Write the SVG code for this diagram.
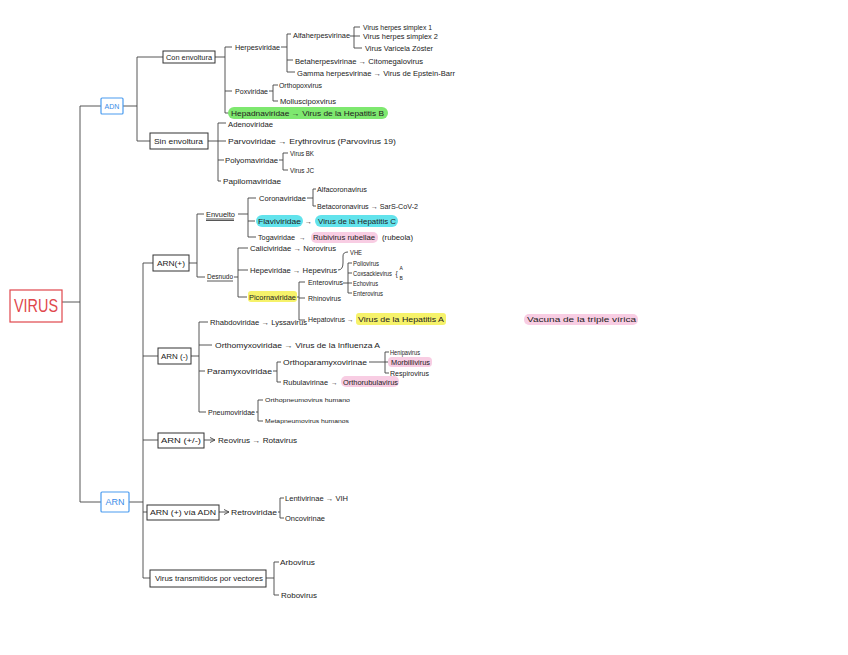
<svg xmlns="http://www.w3.org/2000/svg" width="848" height="655" viewBox="0 0 848 655">
<defs>
<style>
text{font-family:"Liberation Sans","DejaVu Sans",sans-serif;fill:#222;font-size:7px;dominant-baseline:central}
.s{font-size:6.5px}
.box{fill:#fff;stroke:#333;stroke-width:1}
.c{fill:none;stroke:#444;stroke-width:0.9}
.mid{text-anchor:middle}
.hg{fill:#7ee86f}
.hc{fill:#62e3ec}
.hy{fill:#f6f26a}
.hp{fill:#f8cde3}
</style>
<marker id="ah" markerWidth="6" markerHeight="6" refX="5" refY="3" orient="auto" markerUnits="userSpaceOnUse"><path d="M0 0.5 L5 3 L0 5.5" fill="none" stroke="#444" stroke-width="0.9"/></marker>
</defs>
<rect width="848" height="655" fill="#fff"/>

<g id="connectors">
<path class="c" d="M80 106 V502 M62 302 H80 M80 106 H101 M80 502 H101"/>
<path class="c" d="M123 106 H137 M137 57 V141 M137 57 H163 M137 141 H150"/>
<path class="c" d="M215 57 H225 M225 47 V113 M225 47 H232 M225 91 H232 M225 113 H229"/>
<path class="c" d="M281 47 H287 M287 34 V72 M287 34 H291 M287 60 H293 M287 72 H295"/>
<path class="c" d="M350 36 H354 M354 27 V48 M354 27 H360 M354 36 H360 M354 48 H362"/>
<path class="c" d="M269 91 H273 M273 85 V101 M273 85 H278 M273 101 H278"/>
<path class="c" d="M208 141 H218 M218 123 V181 M218 123 H226 M218 141 H226 M218 160 H224 M218 181 H221"/>
<path class="c" d="M279 160 H283 M283 153 V170 M283 153 H288 M283 170 H288"/>
<path class="c" d="M129 502 H143 M143 263 V578 M143 263 H153 M143 356 H158 M143 440 H158 M143 512 H147 M143 578 H150"/>
<path class="c" d="M189 263 H197 M197 214 V277 M197 214 H204 M197 277 H205"/>
<path class="c" d="M238 214 H248 M248 198 V237 M248 198 H256 M248 221 H255 M248 237 H256"/>
<path class="c" d="M307 198 H313 M313 189 V206 M313 189 H316 M313 206 H316"/>
<path class="c" d="M234 277 H238 M238 248 V297 M238 248 H248 M238 270 H248 M238 297 H247"/>
<path class="c" d="M338 270 Q343 270 343 263 V256 Q343 252 348 252"/>
<path class="c" d="M297 297 H299 M299 282 V320 M299 282 H305 M299 298 H305 M299 320 H305"/>
<path class="c" d="M343 283 H348 M348 263 V293 M348 263 H352 M348 273 H352 M348 283 H352 M348 293 H352"/>
<path class="c" d="M191 356 H199 M199 322 V412 M199 322 H208 M199 345 H212 M199 371 H205 M199 412 H206"/>
<path class="c" d="M273 371 H277 M277 362 V382 M277 362 H281 M277 382 H281"/>
<path class="c" d="M369 362 H385 M385 352 V373 M385 352 H389 M385 362 H388 M385 373 H389"/>
<path class="c" d="M256 412 H258 M258 400 V421 M258 400 H263 M258 421 H263"/>
<path class="c" d="M204 440 H215" marker-end="url(#ah)"/>
<path class="c" d="M219 512 H229" marker-end="url(#ah)"/>
<path class="c" d="M278 512 H280 M280 498 V518 M280 498 H284 M280 518 H284"/>
<path class="c" d="M266 578 H274 M274 562 V595 M274 562 H279 M274 595 H279"/>
</g>

<g id="virus">
<rect x="10" y="290" width="52" height="32" fill="#fff" stroke="#e0474c" stroke-width="1.2"/>
<text x="14" y="306" textLength="44" lengthAdjust="spacingAndGlyphs" style="font-size:18px;fill:#e0474c">VIRUS</text>
</g>
<g id="adn">
<rect x="101" y="98" width="22" height="16" rx="1" fill="#fff" stroke="#4a9cf0" stroke-width="1.2"/>
<text x="112" y="106" class="mid" style="font-size:7px;fill:#3a8ce8">ADN</text>
</g>
<g id="arn">
<rect x="101" y="492" width="28" height="20" rx="1" fill="#fff" stroke="#4a9cf0" stroke-width="1.2"/>
<text x="115" y="502" class="mid" style="font-size:9px;fill:#3a8ce8">ARN</text>
</g>

<g id="con-envoltura">
<rect class="box" x="163" y="51" width="52" height="12"/>
<text x="166" y="57" class="s" textLength="46" lengthAdjust="spacingAndGlyphs">Con envoltura</text>
</g>
<g id="herpesviridae"><text x="235" y="47" textLength="45" lengthAdjust="spacingAndGlyphs">Herpesviridae</text></g>
<g id="alfaherpesvirinae"><text x="293" y="35" class="s" textLength="57" lengthAdjust="spacingAndGlyphs">Alfaherpesvirinae</text></g>
<g id="hsv1"><text x="363" y="27" class="s" textLength="69" lengthAdjust="spacingAndGlyphs">Virus herpes simplex 1</text></g>
<g id="hsv2"><text x="363" y="36" class="s" textLength="75" lengthAdjust="spacingAndGlyphs">Virus herpes simplex 2</text></g>
<g id="vvz"><text x="365" y="48" class="s" textLength="68" lengthAdjust="spacingAndGlyphs">Virus Varicela Zóster</text></g>
<g id="betaherpesvirinae"><text x="295" y="61" class="s" textLength="128" lengthAdjust="spacingAndGlyphs">Betaherpesvirinae → Citomegalovirus</text></g>
<g id="gammaherpesvirinae"><text x="297" y="73" class="s" textLength="158" lengthAdjust="spacingAndGlyphs">Gamma herpesvirinae → Virus de Epstein-Barr</text></g>
<g id="poxviridae"><text x="235" y="91" textLength="33" lengthAdjust="spacingAndGlyphs">Poxviridae</text></g>
<g id="orthopoxvirus"><text x="279" y="85" class="s" textLength="43" lengthAdjust="spacingAndGlyphs">Orthopoxvirus</text></g>
<g id="molluscipoxvirus"><text x="280" y="101" class="s" textLength="56" lengthAdjust="spacingAndGlyphs">Molluscipoxvirus</text></g>
<g id="hepadnaviridae">
<rect class="hg" x="228" y="107" width="160" height="12" rx="6"/>
<text x="231" y="113" textLength="153" lengthAdjust="spacingAndGlyphs">Hepadnaviridae → Virus de la Hepatitis B</text>
</g>

<g id="sin-envoltura">
<rect class="box" x="150" y="133" width="58" height="16"/>
<text x="154" y="141" class="s" textLength="49" lengthAdjust="spacingAndGlyphs">Sin envoltura</text>
</g>
<g id="adenoviridae"><text x="228" y="124" class="s" textLength="45" lengthAdjust="spacingAndGlyphs">Adenoviridae</text></g>
<g id="parvoviridae"><text x="228" y="141" textLength="168" lengthAdjust="spacingAndGlyphs">Parvoviridae → Erythrovirus  (Parvovirus 19)</text></g>
<g id="polyomaviridae"><text x="225" y="160" class="s" textLength="53" lengthAdjust="spacingAndGlyphs">Polyomaviridae</text></g>
<g id="virus-bk"><text x="290" y="153" style="font-size:7.5px" textLength="24" lengthAdjust="spacingAndGlyphs">Virus BK</text></g>
<g id="virus-jc"><text x="290" y="170" style="font-size:7.5px" textLength="24" lengthAdjust="spacingAndGlyphs">Virus JC</text></g>
<g id="papilomaviridae"><text x="223" y="181" textLength="58" lengthAdjust="spacingAndGlyphs">Papilomaviridae</text></g>

<g id="arn-pos">
<rect class="box" x="153" y="255" width="36" height="16"/>
<text x="157" y="263" class="s" textLength="28" lengthAdjust="spacingAndGlyphs">ARN(+)</text>
</g>
<g id="envuelto">
<text x="206" y="214" textLength="29" lengthAdjust="spacingAndGlyphs">Envuelto</text>
<path class="c" d="M206 219 H234 M206 220.5 H234"/>
</g>
<g id="coronaviridae"><text x="259" y="198" class="s" textLength="47" lengthAdjust="spacingAndGlyphs">Coronaviridae</text></g>
<g id="alfacoronavirus"><text x="317" y="189" class="s" textLength="50" lengthAdjust="spacingAndGlyphs">Alfacoronavirus</text></g>
<g id="betacoronavirus"><text x="317" y="206" class="s" textLength="101" lengthAdjust="spacingAndGlyphs">Betacoronavirus → SarS-CoV-2</text></g>
<g id="flaviviridae">
<rect class="hc" x="256" y="215" width="47" height="12" rx="6"/>
<rect class="hc" x="315" y="215" width="83" height="12" rx="6"/>
<text x="258" y="221" textLength="43" lengthAdjust="spacingAndGlyphs">Flaviviridae</text>
<text x="305" y="221">→</text>
<text x="318" y="221" textLength="78" lengthAdjust="spacingAndGlyphs">Virus de la Hepatitis C</text>
</g>
<g id="togaviridae">
<rect class="hp" x="311" y="232" width="67" height="11" rx="5"/>
<text x="258" y="237" class="s" textLength="37" lengthAdjust="spacingAndGlyphs">Togaviridae</text>
<text x="299" y="237" class="s">→</text>
<text x="313" y="237" class="s" textLength="62" lengthAdjust="spacingAndGlyphs">Rubivirus rubellae</text>
<text x="382" y="237" class="s" textLength="31" lengthAdjust="spacingAndGlyphs">(rubeola)</text>
</g>
<g id="desnudo">
<text x="207" y="276" textLength="26" lengthAdjust="spacingAndGlyphs">Desnudo</text>
<path class="c" d="M207 281 H233"/>
</g>
<g id="caliciviridae"><text x="250" y="248" class="s" textLength="86" lengthAdjust="spacingAndGlyphs">Caliciviridae → Norovirus</text></g>
<g id="hepeviridae"><text x="250" y="270" class="s" textLength="87" lengthAdjust="spacingAndGlyphs">Hepeviridae → Hepevirus</text></g>
<g id="vhe"><text x="350" y="252" class="s" textLength="12" lengthAdjust="spacingAndGlyphs">VHE</text></g>
<g id="picornaviridae">
<rect class="hy" x="248" y="291" width="49" height="11" rx="3"/>
<text x="249" y="297" class="s" textLength="47" lengthAdjust="spacingAndGlyphs">Picornaviridae</text>
</g>
<g id="enterovirus-g"><text x="308" y="282" class="s" textLength="35" lengthAdjust="spacingAndGlyphs">Enterovirus</text></g>
<g id="poliovirus"><text x="353" y="263" class="s" textLength="26" lengthAdjust="spacingAndGlyphs">Poliovirus</text></g>
<g id="coxsackievirus"><text x="353" y="273" class="s" textLength="39" lengthAdjust="spacingAndGlyphs">Coxsackievirus</text><text x="395.5" y="273" class="s">{</text><text x="399.5" y="267.5" style="font-size:5px">A</text><text x="399.5" y="278" style="font-size:5px">B</text></g>
<g id="echovirus"><text x="353" y="283" class="s" textLength="25" lengthAdjust="spacingAndGlyphs">Echovirus</text></g>
<g id="enterovirus"><text x="353" y="293" class="s" textLength="30" lengthAdjust="spacingAndGlyphs">Enterovirus</text></g>
<g id="rhinovirus"><text x="308" y="298" class="s" textLength="33" lengthAdjust="spacingAndGlyphs">Rhinovirus</text></g>
<g id="hepatovirus">
<rect class="hy" x="356" y="313" width="90" height="12" rx="3"/>
<text x="308" y="319" class="s" textLength="37" lengthAdjust="spacingAndGlyphs">Hepatovirus</text>
<text x="347" y="319" class="s">→</text>
<text x="358" y="319" textLength="86" lengthAdjust="spacingAndGlyphs">Virus de la Hepatitis A</text>
</g>

<g id="vacuna">
<rect class="hp" x="524" y="314" width="114" height="11" rx="5"/>
<text x="527" y="319" class="s" textLength="109" lengthAdjust="spacingAndGlyphs">Vacuna de la triple vírica</text>
</g>

<g id="arn-neg">
<rect class="box" x="158" y="348" width="33" height="16"/>
<text x="161" y="356" class="s" textLength="27" lengthAdjust="spacingAndGlyphs">ARN (-)</text>
</g>
<g id="rhabdoviridae"><text x="210" y="322" class="s" textLength="97" lengthAdjust="spacingAndGlyphs">Rhabdoviridae → Lyssavirus</text></g>
<g id="orthomyxoviridae"><text x="215" y="345" class="s" textLength="165" lengthAdjust="spacingAndGlyphs">Orthomyxoviridae → Virus de la Influenza A</text></g>
<g id="paramyxoviridae"><text x="207" y="371" class="s" textLength="65" lengthAdjust="spacingAndGlyphs">Paramyxoviridae</text></g>
<g id="orthoparamyxovirinae"><text x="283" y="362" class="s" textLength="84" lengthAdjust="spacingAndGlyphs">Orthoparamyxovirinae</text></g>
<g id="henipavirus"><text x="390" y="352" class="s" textLength="30" lengthAdjust="spacingAndGlyphs">Henipavirus</text></g>
<g id="morbillivirus">
<rect class="hp" x="388" y="357" width="44" height="10" rx="4"/>
<text x="391" y="362" class="s" textLength="39" lengthAdjust="spacingAndGlyphs">Morbillivirus</text>
</g>
<g id="respirovirus"><text x="390" y="373" class="s" textLength="39" lengthAdjust="spacingAndGlyphs">Respirovirus</text></g>
<g id="rubulavirinae">
<rect class="hp" x="341" y="376" width="58" height="11" rx="5"/>
<text x="283" y="382" class="s" textLength="45" lengthAdjust="spacingAndGlyphs">Rubulavirinae</text>
<text x="331" y="382" class="s">→</text>
<text x="343" y="382" class="s" textLength="55" lengthAdjust="spacingAndGlyphs">Orthorubulavirus</text>
</g>
<g id="pneumoviridae"><text x="208" y="412" class="s" textLength="47" lengthAdjust="spacingAndGlyphs">Pneumoviridae</text></g>
<g id="orthopneumovirus"><text x="265" y="400" style="font-size:5.5px" textLength="85" lengthAdjust="spacingAndGlyphs">Orthopneumovirus humano</text></g>
<g id="metapneumovirus"><text x="265" y="421" style="font-size:5.5px" textLength="84" lengthAdjust="spacingAndGlyphs">Metapneumovirus humanos</text></g>

<g id="arn-ambi">
<rect class="box" x="158" y="433" width="46" height="15"/>
<text x="161" y="440.5" class="s" textLength="40" lengthAdjust="spacingAndGlyphs">ARN (+/-)</text>
</g>
<g id="reovirus"><text x="218" y="440" class="s" textLength="79" lengthAdjust="spacingAndGlyphs">Reovirus → Rotavirus</text></g>

<g id="arn-adn">
<rect class="box" x="147" y="505" width="72" height="15"/>
<text x="150" y="512.5" class="s" textLength="66" lengthAdjust="spacingAndGlyphs">ARN (+) vía ADN</text>
</g>
<g id="retroviridae"><text x="231" y="512" class="s" textLength="46" lengthAdjust="spacingAndGlyphs">Retroviridae</text></g>
<g id="lentivirinae"><text x="285" y="498" class="s" textLength="63" lengthAdjust="spacingAndGlyphs">Lentivirinae → VIH</text></g>
<g id="oncovirinae"><text x="285" y="518" class="s" textLength="40" lengthAdjust="spacingAndGlyphs">Oncovirinae</text></g>

<g id="vectores">
<rect class="box" x="150" y="570" width="116" height="17"/>
<text x="155" y="578.5" class="s" textLength="108" lengthAdjust="spacingAndGlyphs">Virus transmitidos por vectores</text>
</g>
<g id="arbovirus"><text x="280" y="562" textLength="35" lengthAdjust="spacingAndGlyphs">Arbovirus</text></g>
<g id="robovirus"><text x="281" y="595" class="s" textLength="36" lengthAdjust="spacingAndGlyphs">Robovirus</text></g>
</svg>
